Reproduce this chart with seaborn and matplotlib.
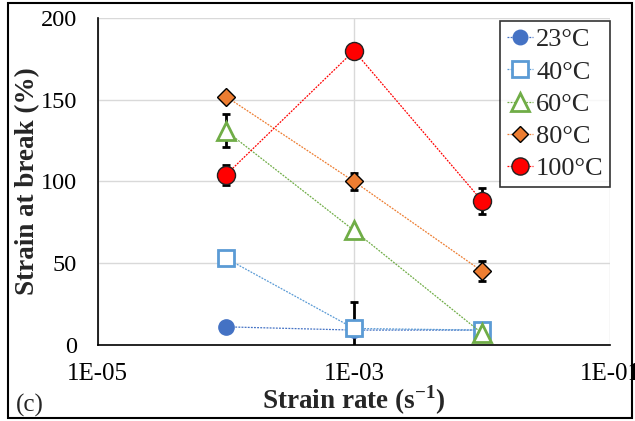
import numpy as np
import pandas as pd
import matplotlib
matplotlib.use("Agg")
import matplotlib.pyplot as plt
import seaborn as sns
from matplotlib.patches import Rectangle
from matplotlib.lines import Line2D

strain_rate = [1e-4, 1e-3, 1e-2]
temps = ["23°C", "40°C", "60°C", "80°C", "100°C"]
s23 = [11, 9, 9]
s40 = [53, 10, 9]
s60 = [131, 70, 7]
s80 = [152, 100, 45]
s100 = [104, 180, 88]
e23 = [0, 0, 0]
e40 = [0, 16, 0]
e60 = [10, 0, 0]
e80 = [0, 5, 6]
e100 = [6, 0, 8]

values = [s23, s40, s60, s80, s100]
errors = [e23, e40, e60, e80, e100]

rows = []
for t, v in zip(temps, values):
    for x, y in zip(strain_rate, v):
        rows.append({"rate": x, "strain": y, "temp": t})
df = pd.DataFrame(rows)

sns.set_theme(style="whitegrid")
plt.rcParams["font.family"] = ["Liberation Serif", "DejaVu Serif"]
plt.rcParams["mathtext.fontset"] = "custom"
plt.rcParams["mathtext.rm"] = "Liberation Serif"
plt.rcParams["mathtext.bf"] = "Liberation Serif:bold"

fig = plt.figure(figsize=(6.35, 4.21), dpi=100)
fig.patch.set_facecolor("white")
ax = fig.add_axes([0.154, 0.181, 0.807, 0.776])
ax.set_facecolor("white")

styles = {
    "23°C": dict(color="#4472C4", marker="o", mfc="#4472C4", mec="#4472C4", ms=11),
    "40°C": dict(color="#5B9BD5", marker="s", mfc="white", mec="#5B9BD5", ms=12),
    "60°C": dict(color="#70AD47", marker="^", mfc="white", mec="#70AD47", ms=13),
    "80°C": dict(color="#ED7D31", marker="D", mfc="#ED7D31", mec="black", ms=9),
    "100°C": dict(color="#FF0000", marker="o", mfc="#FF0000", mec="#222222", ms=13),
}

for i in range(5):
    t = temps[i]
    st = styles[t]
    sub = df[df["temp"] == t]
    err = np.array(errors[i])
    ax.errorbar(strain_rate, values[i], yerr=err, fmt="none", ecolor="black",
                elinewidth=2, capsize=3, capthick=2, zorder=2)
    sns.lineplot(data=sub, x="rate", y="strain", ax=ax, color=st["color"],
                 linestyle=(0, (1.5, 1)), linewidth=0.9, marker=st["marker"],
                 markersize=st["ms"], markerfacecolor=st["mfc"],
                 markeredgecolor=st["mec"], markeredgewidth=2 if st["mfc"] == "white" else 1,
                 zorder=3, legend=False)

ax.set_xscale("log")
ax.set_xlim(1e-5, 1e-1)
ax.set_ylim(0, 200)
ax.set_xticks([1e-5, 1e-3, 1e-1])
ax.set_xticklabels(["1E-05", "1E-03", "1E-01"])
ax.set_yticks([0, 50, 100, 150, 200])
ax.minorticks_off()
ax.tick_params(axis="both", labelsize=18, direction="inout", length=8, width=1,
               colors="black")
ax.tick_params(axis="y", pad=11, labelsize=17.5)
ax.tick_params(axis="x", pad=9)
ax.grid(True, color="#D9D9D9", linewidth=1)
for sp in ["top", "right"]:
    ax.spines[sp].set_visible(False)
for sp in ["left", "bottom"]:
    ax.spines[sp].set_color("black")
    ax.spines[sp].set_linewidth(1.2)

ax.set_xlabel(r"Strain rate (s$^{\mathbf{-1}}$)", fontsize=19.5, fontweight="bold")
ax.set_ylabel("Strain at break (%)", fontsize=19.5, fontweight="bold")
ax.xaxis.label.set_va("center")
ax.yaxis.label.set_va("center")
ax.xaxis.set_label_coords(0.5, -0.168)
ax.yaxis.set_label_coords(-0.136, 0.5)

handles = []
for t in temps:
    st = styles[t]
    handles.append(Line2D([0], [0], color=st["color"], linestyle=(0, (1.5, 1)), linewidth=0.9,
                          marker=st["marker"], markersize=st["ms"] * 0.95,
                          markerfacecolor=st["mfc"], markeredgecolor=st["mec"],
                          markeredgewidth=2 if st["mfc"] == "white" else 1))
leg = ax.legend(handles, temps, loc="upper right", bbox_to_anchor=(1.0, 0.99),
                fontsize=19, frameon=True, fancybox=False, handlelength=1.0,
                handletextpad=0.1, borderpad=0.25, labelspacing=0.33, borderaxespad=0.0)
leg.get_frame().set_edgecolor("black")
leg.get_frame().set_linewidth(1.2)

fig.text(0.025, 0.022, "(c)", fontsize=18)
fig.add_artist(Rectangle((0.012, 0.008), 0.983, 0.985, transform=fig.transFigure,
                         fill=False, edgecolor="black", linewidth=1.5))

fig.savefig("out.png", dpi=100)
